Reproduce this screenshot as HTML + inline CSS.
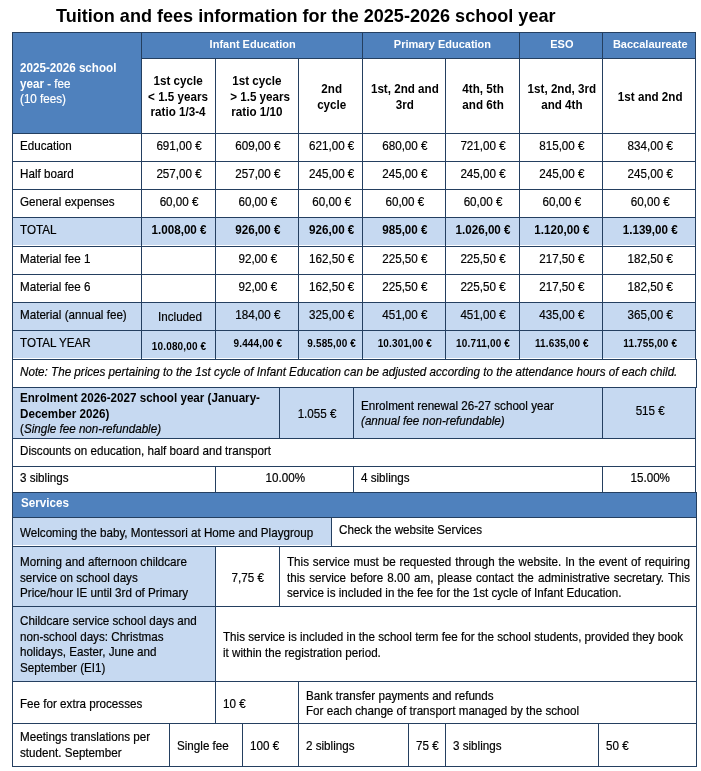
<!DOCTYPE html>
<html><head><meta charset="utf-8"><title>Tuition and fees information for the 2025-2026 school year</title>
<style>
html,body{margin:0;padding:0;background:#fff;}
body{width:701px;height:771px;position:relative;overflow:hidden;font-family:"Liberation Sans", Arial, sans-serif;}
.r{position:absolute;}
.t{position:absolute;white-space:nowrap;-webkit-text-stroke:0.2px currentColor;}
.t b,.t[style*="font-weight:bold"]{-webkit-text-stroke:0;}
.t[style*="justify"]{white-space:normal;}
</style></head><body>
<div class="r" style="left:12px;top:32px;width:684px;height:27px;background:#4f81bd"></div>
<div class="r" style="left:12px;top:58px;width:130px;height:76px;background:#4f81bd"></div>
<div class="r" style="left:12px;top:217px;width:684px;height:28px;background:#c6d9f1"></div>
<div class="r" style="left:12px;top:302px;width:684px;height:56px;background:#c6d9f1"></div>
<div class="r" style="left:12px;top:387px;width:684px;height:52px;background:#c6d9f1"></div>
<div class="r" style="left:12px;top:492px;width:685px;height:26px;background:#4f81bd"></div>
<div class="r" style="left:12px;top:517px;width:320px;height:28px;background:#c6d9f1"></div>
<div class="r" style="left:12px;top:546px;width:204px;height:136px;background:#c6d9f1"></div>
<div class="r" style="left:12px;top:32px;width:684px;height:1px;background:#243f60"></div>
<div class="r" style="left:12px;top:133px;width:684px;height:1px;background:#243f60"></div>
<div class="r" style="left:12px;top:161px;width:684px;height:1px;background:#243f60"></div>
<div class="r" style="left:12px;top:189px;width:684px;height:1px;background:#243f60"></div>
<div class="r" style="left:12px;top:217px;width:684px;height:1px;background:#243f60"></div>
<div class="r" style="left:12px;top:246px;width:684px;height:1px;background:#243f60"></div>
<div class="r" style="left:12px;top:274px;width:684px;height:1px;background:#243f60"></div>
<div class="r" style="left:12px;top:302px;width:684px;height:1px;background:#243f60"></div>
<div class="r" style="left:12px;top:330px;width:684px;height:1px;background:#243f60"></div>
<div class="r" style="left:141px;top:58px;width:555px;height:1px;background:#243f60"></div>
<div class="r" style="left:12px;top:359px;width:685px;height:1px;background:#243f60"></div>
<div class="r" style="left:12px;top:387px;width:685px;height:1px;background:#243f60"></div>
<div class="r" style="left:12px;top:438px;width:684px;height:1px;background:#243f60"></div>
<div class="r" style="left:12px;top:466px;width:684px;height:1px;background:#243f60"></div>
<div class="r" style="left:12px;top:492px;width:685px;height:1px;background:#243f60"></div>
<div class="r" style="left:12px;top:517px;width:685px;height:1px;background:#243f60"></div>
<div class="r" style="left:12px;top:546px;width:685px;height:1px;background:#243f60"></div>
<div class="r" style="left:12px;top:606px;width:685px;height:1px;background:#243f60"></div>
<div class="r" style="left:12px;top:681px;width:685px;height:1px;background:#243f60"></div>
<div class="r" style="left:12px;top:723px;width:685px;height:1px;background:#243f60"></div>
<div class="r" style="left:12px;top:766px;width:685px;height:1px;background:#243f60"></div>
<div class="r" style="left:12px;top:32px;width:1px;height:735px;background:#243f60"></div>
<div class="r" style="left:695px;top:32px;width:1px;height:328px;background:#243f60"></div>
<div class="r" style="left:696px;top:359px;width:1px;height:29px;background:#243f60"></div>
<div class="r" style="left:695px;top:387px;width:1px;height:106px;background:#243f60"></div>
<div class="r" style="left:696px;top:492px;width:1px;height:275px;background:#243f60"></div>
<div class="r" style="left:141px;top:32px;width:1px;height:328px;background:#243f60"></div>
<div class="r" style="left:215px;top:58px;width:1px;height:302px;background:#243f60"></div>
<div class="r" style="left:298px;top:58px;width:1px;height:302px;background:#243f60"></div>
<div class="r" style="left:362px;top:32px;width:1px;height:328px;background:#243f60"></div>
<div class="r" style="left:445px;top:58px;width:1px;height:302px;background:#243f60"></div>
<div class="r" style="left:519px;top:32px;width:1px;height:328px;background:#243f60"></div>
<div class="r" style="left:602px;top:32px;width:1px;height:328px;background:#243f60"></div>
<div class="r" style="left:279px;top:387px;width:1px;height:52px;background:#243f60"></div>
<div class="r" style="left:353px;top:387px;width:1px;height:52px;background:#243f60"></div>
<div class="r" style="left:602px;top:387px;width:1px;height:52px;background:#243f60"></div>
<div class="r" style="left:215px;top:466px;width:1px;height:27px;background:#243f60"></div>
<div class="r" style="left:353px;top:466px;width:1px;height:27px;background:#243f60"></div>
<div class="r" style="left:602px;top:466px;width:1px;height:27px;background:#243f60"></div>
<div class="r" style="left:331px;top:517px;width:1px;height:30px;background:#243f60"></div>
<div class="r" style="left:215px;top:546px;width:1px;height:61px;background:#243f60"></div>
<div class="r" style="left:279px;top:546px;width:1px;height:61px;background:#243f60"></div>
<div class="r" style="left:215px;top:606px;width:1px;height:76px;background:#243f60"></div>
<div class="r" style="left:215px;top:681px;width:1px;height:43px;background:#243f60"></div>
<div class="r" style="left:298px;top:681px;width:1px;height:43px;background:#243f60"></div>
<div class="r" style="left:169px;top:723px;width:1px;height:44px;background:#243f60"></div>
<div class="r" style="left:242px;top:723px;width:1px;height:44px;background:#243f60"></div>
<div class="r" style="left:298px;top:723px;width:1px;height:44px;background:#243f60"></div>
<div class="r" style="left:408px;top:723px;width:1px;height:44px;background:#243f60"></div>
<div class="r" style="left:445px;top:723px;width:1px;height:44px;background:#243f60"></div>
<div class="r" style="left:598px;top:723px;width:1px;height:44px;background:#243f60"></div>
<div class="t" style="top:4px;font-size:18.07px;line-height:24.39px;font-weight:bold;font-style:normal;color:#000;left:56px;">Tuition and fees information for the 2025-2026 school year</div>
<div class="t" style="top:37px;font-size:11.77px;line-height:14.85px;font-weight:bold;font-style:normal;color:#fff;left:135.30px;width:235.40px;text-align:center;transform:scaleX(0.93458);">Infant Education</div>
<div class="t" style="top:37px;font-size:11.77px;line-height:14.85px;font-weight:bold;font-style:normal;color:#fff;left:358.54px;width:166.92px;text-align:center;transform:scaleX(0.93458);">Primary Education</div>
<div class="t" style="top:37px;font-size:11.77px;line-height:14.85px;font-weight:bold;font-style:normal;color:#fff;left:518.13px;width:87.74px;text-align:center;transform:scaleX(0.93458);">ESO</div>
<div class="t" style="top:37px;font-size:11.77px;line-height:14.85px;font-weight:bold;font-style:normal;color:#fff;left:600.78px;width:98.44px;text-align:center;transform:scaleX(0.93458);">Baccalaureate</div>
<div class="t" style="top:61px;font-size:12.466px;line-height:15.6px;font-weight:normal;font-style:normal;color:#fff;left:20px;transform:scaleX(0.93458);transform-origin:0 0;"><b>2025-2026 school</b><br><b>year</b> - fee<br>(10 fees)</div>
<div class="t" style="top:74px;font-size:12.466px;line-height:15.6px;font-weight:bold;font-style:normal;color:#000;left:139.44px;width:78.11px;text-align:center;transform:scaleX(0.93458);">1st cycle<br>&lt; 1.5 years<br>ratio 1/3-4</div>
<div class="t" style="top:74px;font-size:12.466px;line-height:15.6px;font-weight:bold;font-style:normal;color:#000;left:213.13px;width:87.74px;text-align:center;transform:scaleX(0.93458);">1st cycle<br>&nbsp;&nbsp;&gt; 1.5 years<br>ratio 1/10</div>
<div class="t" style="top:82px;font-size:12.466px;line-height:15.6px;font-weight:bold;font-style:normal;color:#000;left:297.80px;width:67.41px;text-align:center;transform:scaleX(0.93458);">2nd<br>cycle</div>
<div class="t" style="top:82px;font-size:12.466px;line-height:15.6px;font-weight:bold;font-style:normal;color:#000;left:361.13px;width:87.74px;text-align:center;transform:scaleX(0.93458);">1st, 2nd and<br>3rd</div>
<div class="t" style="top:82px;font-size:12.466px;line-height:15.6px;font-weight:bold;font-style:normal;color:#000;left:444.44px;width:78.11px;text-align:center;transform:scaleX(0.93458);">4th, 5th<br>and 6th</div>
<div class="t" style="top:82px;font-size:12.466px;line-height:15.6px;font-weight:bold;font-style:normal;color:#000;left:518.13px;width:87.74px;text-align:center;transform:scaleX(0.93458);">1st, 2nd, 3rd<br>and 4th</div>
<div class="t" style="top:90px;font-size:12.466px;line-height:15.6px;font-weight:bold;font-style:normal;color:#000;left:600.78px;width:98.44px;text-align:center;transform:scaleX(0.93458);">1st and 2nd</div>
<div class="t" style="top:139px;font-size:12.466px;line-height:15.73px;font-weight:normal;font-style:normal;color:#000;left:20px;transform:scaleX(0.93458);transform-origin:0 0;">Education</div>
<div class="t" style="top:139px;font-size:12.466px;line-height:15.73px;font-weight:normal;font-style:normal;color:#000;left:140.44px;width:78.11px;text-align:center;transform:scaleX(0.93458);">691,00 €</div>
<div class="t" style="top:139px;font-size:12.466px;line-height:15.73px;font-weight:normal;font-style:normal;color:#000;left:214.13px;width:87.74px;text-align:center;transform:scaleX(0.93458);">609,00 €</div>
<div class="t" style="top:139px;font-size:12.466px;line-height:15.73px;font-weight:normal;font-style:normal;color:#000;left:297.80px;width:67.41px;text-align:center;transform:scaleX(0.93458);">621,00 €</div>
<div class="t" style="top:139px;font-size:12.466px;line-height:15.73px;font-weight:normal;font-style:normal;color:#000;left:361.13px;width:87.74px;text-align:center;transform:scaleX(0.93458);">680,00 €</div>
<div class="t" style="top:139px;font-size:12.466px;line-height:15.73px;font-weight:normal;font-style:normal;color:#000;left:444.44px;width:78.11px;text-align:center;transform:scaleX(0.93458);">721,00 €</div>
<div class="t" style="top:139px;font-size:12.466px;line-height:15.73px;font-weight:normal;font-style:normal;color:#000;left:518.13px;width:87.74px;text-align:center;transform:scaleX(0.93458);">815,00 €</div>
<div class="t" style="top:139px;font-size:12.466px;line-height:15.73px;font-weight:normal;font-style:normal;color:#000;left:600.78px;width:98.44px;text-align:center;transform:scaleX(0.93458);">834,00 €</div>
<div class="t" style="top:167px;font-size:12.466px;line-height:15.73px;font-weight:normal;font-style:normal;color:#000;left:20px;transform:scaleX(0.93458);transform-origin:0 0;">Half board</div>
<div class="t" style="top:167px;font-size:12.466px;line-height:15.73px;font-weight:normal;font-style:normal;color:#000;left:140.44px;width:78.11px;text-align:center;transform:scaleX(0.93458);">257,00 €</div>
<div class="t" style="top:167px;font-size:12.466px;line-height:15.73px;font-weight:normal;font-style:normal;color:#000;left:214.13px;width:87.74px;text-align:center;transform:scaleX(0.93458);">257,00 €</div>
<div class="t" style="top:167px;font-size:12.466px;line-height:15.73px;font-weight:normal;font-style:normal;color:#000;left:297.80px;width:67.41px;text-align:center;transform:scaleX(0.93458);">245,00 €</div>
<div class="t" style="top:167px;font-size:12.466px;line-height:15.73px;font-weight:normal;font-style:normal;color:#000;left:361.13px;width:87.74px;text-align:center;transform:scaleX(0.93458);">245,00 €</div>
<div class="t" style="top:167px;font-size:12.466px;line-height:15.73px;font-weight:normal;font-style:normal;color:#000;left:444.44px;width:78.11px;text-align:center;transform:scaleX(0.93458);">245,00 €</div>
<div class="t" style="top:167px;font-size:12.466px;line-height:15.73px;font-weight:normal;font-style:normal;color:#000;left:518.13px;width:87.74px;text-align:center;transform:scaleX(0.93458);">245,00 €</div>
<div class="t" style="top:167px;font-size:12.466px;line-height:15.73px;font-weight:normal;font-style:normal;color:#000;left:600.78px;width:98.44px;text-align:center;transform:scaleX(0.93458);">245,00 €</div>
<div class="t" style="top:195px;font-size:12.466px;line-height:15.73px;font-weight:normal;font-style:normal;color:#000;left:20px;transform:scaleX(0.93458);transform-origin:0 0;">General expenses</div>
<div class="t" style="top:195px;font-size:12.466px;line-height:15.73px;font-weight:normal;font-style:normal;color:#000;left:140.44px;width:78.11px;text-align:center;transform:scaleX(0.93458);">60,00 €</div>
<div class="t" style="top:195px;font-size:12.466px;line-height:15.73px;font-weight:normal;font-style:normal;color:#000;left:214.13px;width:87.74px;text-align:center;transform:scaleX(0.93458);">60,00 €</div>
<div class="t" style="top:195px;font-size:12.466px;line-height:15.73px;font-weight:normal;font-style:normal;color:#000;left:297.80px;width:67.41px;text-align:center;transform:scaleX(0.93458);">60,00 €</div>
<div class="t" style="top:195px;font-size:12.466px;line-height:15.73px;font-weight:normal;font-style:normal;color:#000;left:361.13px;width:87.74px;text-align:center;transform:scaleX(0.93458);">60,00 €</div>
<div class="t" style="top:195px;font-size:12.466px;line-height:15.73px;font-weight:normal;font-style:normal;color:#000;left:444.44px;width:78.11px;text-align:center;transform:scaleX(0.93458);">60,00 €</div>
<div class="t" style="top:195px;font-size:12.466px;line-height:15.73px;font-weight:normal;font-style:normal;color:#000;left:518.13px;width:87.74px;text-align:center;transform:scaleX(0.93458);">60,00 €</div>
<div class="t" style="top:195px;font-size:12.466px;line-height:15.73px;font-weight:normal;font-style:normal;color:#000;left:600.78px;width:98.44px;text-align:center;transform:scaleX(0.93458);">60,00 €</div>
<div class="t" style="top:223px;font-size:12.466px;line-height:15.73px;font-weight:normal;font-style:normal;color:#000;left:20px;transform:scaleX(0.93458);transform-origin:0 0;">TOTAL</div>
<div class="t" style="top:223px;font-size:12.466px;line-height:15.73px;font-weight:bold;font-style:normal;color:#000;left:140.44px;width:78.11px;text-align:center;transform:scaleX(0.93458);">1.008,00 €</div>
<div class="t" style="top:223px;font-size:12.466px;line-height:15.73px;font-weight:bold;font-style:normal;color:#000;left:214.13px;width:87.74px;text-align:center;transform:scaleX(0.93458);">926,00 €</div>
<div class="t" style="top:223px;font-size:12.466px;line-height:15.73px;font-weight:bold;font-style:normal;color:#000;left:297.80px;width:67.41px;text-align:center;transform:scaleX(0.93458);">926,00 €</div>
<div class="t" style="top:223px;font-size:12.466px;line-height:15.73px;font-weight:bold;font-style:normal;color:#000;left:361.13px;width:87.74px;text-align:center;transform:scaleX(0.93458);">985,00 €</div>
<div class="t" style="top:223px;font-size:12.466px;line-height:15.73px;font-weight:bold;font-style:normal;color:#000;left:444.44px;width:78.11px;text-align:center;transform:scaleX(0.93458);">1.026,00 €</div>
<div class="t" style="top:223px;font-size:12.466px;line-height:15.73px;font-weight:bold;font-style:normal;color:#000;left:518.13px;width:87.74px;text-align:center;transform:scaleX(0.93458);">1.120,00 €</div>
<div class="t" style="top:223px;font-size:12.466px;line-height:15.73px;font-weight:bold;font-style:normal;color:#000;left:600.78px;width:98.44px;text-align:center;transform:scaleX(0.93458);">1.139,00 €</div>
<div class="t" style="top:252px;font-size:12.466px;line-height:15.73px;font-weight:normal;font-style:normal;color:#000;left:20px;transform:scaleX(0.93458);transform-origin:0 0;">Material fee 1</div>
<div class="t" style="top:252px;font-size:12.466px;line-height:15.73px;font-weight:normal;font-style:normal;color:#000;left:214.13px;width:87.74px;text-align:center;transform:scaleX(0.93458);">92,00 €</div>
<div class="t" style="top:252px;font-size:12.466px;line-height:15.73px;font-weight:normal;font-style:normal;color:#000;left:297.80px;width:67.41px;text-align:center;transform:scaleX(0.93458);">162,50 €</div>
<div class="t" style="top:252px;font-size:12.466px;line-height:15.73px;font-weight:normal;font-style:normal;color:#000;left:361.13px;width:87.74px;text-align:center;transform:scaleX(0.93458);">225,50 €</div>
<div class="t" style="top:252px;font-size:12.466px;line-height:15.73px;font-weight:normal;font-style:normal;color:#000;left:444.44px;width:78.11px;text-align:center;transform:scaleX(0.93458);">225,50 €</div>
<div class="t" style="top:252px;font-size:12.466px;line-height:15.73px;font-weight:normal;font-style:normal;color:#000;left:518.13px;width:87.74px;text-align:center;transform:scaleX(0.93458);">217,50 €</div>
<div class="t" style="top:252px;font-size:12.466px;line-height:15.73px;font-weight:normal;font-style:normal;color:#000;left:600.78px;width:98.44px;text-align:center;transform:scaleX(0.93458);">182,50 €</div>
<div class="t" style="top:280px;font-size:12.466px;line-height:15.73px;font-weight:normal;font-style:normal;color:#000;left:20px;transform:scaleX(0.93458);transform-origin:0 0;">Material fee 6</div>
<div class="t" style="top:280px;font-size:12.466px;line-height:15.73px;font-weight:normal;font-style:normal;color:#000;left:214.13px;width:87.74px;text-align:center;transform:scaleX(0.93458);">92,00 €</div>
<div class="t" style="top:280px;font-size:12.466px;line-height:15.73px;font-weight:normal;font-style:normal;color:#000;left:297.80px;width:67.41px;text-align:center;transform:scaleX(0.93458);">162,50 €</div>
<div class="t" style="top:280px;font-size:12.466px;line-height:15.73px;font-weight:normal;font-style:normal;color:#000;left:361.13px;width:87.74px;text-align:center;transform:scaleX(0.93458);">225,50 €</div>
<div class="t" style="top:280px;font-size:12.466px;line-height:15.73px;font-weight:normal;font-style:normal;color:#000;left:444.44px;width:78.11px;text-align:center;transform:scaleX(0.93458);">225,50 €</div>
<div class="t" style="top:280px;font-size:12.466px;line-height:15.73px;font-weight:normal;font-style:normal;color:#000;left:518.13px;width:87.74px;text-align:center;transform:scaleX(0.93458);">217,50 €</div>
<div class="t" style="top:280px;font-size:12.466px;line-height:15.73px;font-weight:normal;font-style:normal;color:#000;left:600.78px;width:98.44px;text-align:center;transform:scaleX(0.93458);">182,50 €</div>
<div class="t" style="top:308px;font-size:12.466px;line-height:15.73px;font-weight:normal;font-style:normal;color:#000;left:20px;transform:scaleX(0.93458);transform-origin:0 0;">Material (annual fee)</div>
<div class="t" style="top:308px;font-size:12.466px;line-height:15.73px;font-weight:normal;font-style:normal;color:#000;left:214.13px;width:87.74px;text-align:center;transform:scaleX(0.93458);">184,00 €</div>
<div class="t" style="top:308px;font-size:12.466px;line-height:15.73px;font-weight:normal;font-style:normal;color:#000;left:297.80px;width:67.41px;text-align:center;transform:scaleX(0.93458);">325,00 €</div>
<div class="t" style="top:308px;font-size:12.466px;line-height:15.73px;font-weight:normal;font-style:normal;color:#000;left:361.13px;width:87.74px;text-align:center;transform:scaleX(0.93458);">451,00 €</div>
<div class="t" style="top:308px;font-size:12.466px;line-height:15.73px;font-weight:normal;font-style:normal;color:#000;left:444.44px;width:78.11px;text-align:center;transform:scaleX(0.93458);">451,00 €</div>
<div class="t" style="top:308px;font-size:12.466px;line-height:15.73px;font-weight:normal;font-style:normal;color:#000;left:518.13px;width:87.74px;text-align:center;transform:scaleX(0.93458);">435,00 €</div>
<div class="t" style="top:308px;font-size:12.466px;line-height:15.73px;font-weight:normal;font-style:normal;color:#000;left:600.78px;width:98.44px;text-align:center;transform:scaleX(0.93458);">365,00 €</div>
<div class="t" style="top:310px;font-size:12.466px;line-height:15.73px;font-weight:normal;font-style:normal;color:#000;left:141.44px;width:78.11px;text-align:center;transform:scaleX(0.93458);">Included</div>
<div class="t" style="top:336px;font-size:12.466px;line-height:15.73px;font-weight:normal;font-style:normal;color:#000;left:20px;transform:scaleX(0.93458);transform-origin:0 0;">TOTAL YEAR</div>
<div class="t" style="top:340px;font-size:10.7px;line-height:13.5px;font-weight:bold;font-style:normal;color:#000;left:140.44px;width:78.11px;text-align:center;transform:scaleX(0.93458);letter-spacing:0.161px;">10.080,00 €</div>
<div class="t" style="top:337px;font-size:10.7px;line-height:13.5px;font-weight:bold;font-style:normal;color:#000;left:214.13px;width:87.74px;text-align:center;transform:scaleX(0.93458);letter-spacing:0.161px;">9.444,00 €</div>
<div class="t" style="top:337px;font-size:10.7px;line-height:13.5px;font-weight:bold;font-style:normal;color:#000;left:297.80px;width:67.41px;text-align:center;transform:scaleX(0.93458);letter-spacing:0.161px;">9.585,00 €</div>
<div class="t" style="top:337px;font-size:10.7px;line-height:13.5px;font-weight:bold;font-style:normal;color:#000;left:361.13px;width:87.74px;text-align:center;transform:scaleX(0.93458);letter-spacing:0.161px;">10.301,00 €</div>
<div class="t" style="top:337px;font-size:10.7px;line-height:13.5px;font-weight:bold;font-style:normal;color:#000;left:444.44px;width:78.11px;text-align:center;transform:scaleX(0.93458);letter-spacing:0.161px;">10.711,00 €</div>
<div class="t" style="top:337px;font-size:10.7px;line-height:13.5px;font-weight:bold;font-style:normal;color:#000;left:518.13px;width:87.74px;text-align:center;transform:scaleX(0.93458);letter-spacing:0.161px;">11.635,00 €</div>
<div class="t" style="top:337px;font-size:10.7px;line-height:13.5px;font-weight:bold;font-style:normal;color:#000;left:600.78px;width:98.44px;text-align:center;transform:scaleX(0.93458);letter-spacing:0.161px;">11.755,00 €</div>
<div class="t" style="top:365px;font-size:12.466px;line-height:15.73px;font-weight:normal;font-style:italic;color:#000;left:20px;transform:scaleX(0.93458);transform-origin:0 0;">Note: The prices pertaining to the 1st cycle of Infant Education can be adjusted according to the attendance hours of each child.</div>
<div class="t" style="top:391px;font-size:12.466px;line-height:15.6px;font-weight:normal;font-style:normal;color:#000;left:20px;transform:scaleX(0.93458);transform-origin:0 0;"><b>Enrolment 2026-2027 school year (January-</b><br><b>December 2026)</b><br>(<i>Single fee non-refundable)</i></div>
<div class="t" style="top:407px;font-size:12.466px;line-height:15.73px;font-weight:normal;font-style:normal;color:#000;left:278.44px;width:78.11px;text-align:center;transform:scaleX(0.93458);">1.055 €</div>
<div class="t" style="top:399px;font-size:12.466px;line-height:15px;font-weight:normal;font-style:normal;color:#000;left:361px;transform:scaleX(0.93458);transform-origin:0 0;">Enrolment renewal 26-27 school year<br><i>(annual fee non-refundable)</i></div>
<div class="t" style="top:404px;font-size:12.466px;line-height:15.73px;font-weight:normal;font-style:normal;color:#000;left:600.78px;width:98.44px;text-align:center;transform:scaleX(0.93458);">515 €</div>
<div class="t" style="top:444px;font-size:12.466px;line-height:15.73px;font-weight:normal;font-style:normal;color:#000;left:20px;transform:scaleX(0.93458);transform-origin:0 0;">Discounts on education, half board and transport</div>
<div class="t" style="top:471px;font-size:12.466px;line-height:15.73px;font-weight:normal;font-style:normal;color:#000;left:20px;transform:scaleX(0.93458);transform-origin:0 0;">3 siblings</div>
<div class="t" style="top:471px;font-size:12.466px;line-height:15.73px;font-weight:normal;font-style:normal;color:#000;left:212.20px;width:146.59px;text-align:center;transform:scaleX(0.93458);">10.00%</div>
<div class="t" style="top:471px;font-size:12.466px;line-height:15.73px;font-weight:normal;font-style:normal;color:#000;left:361px;transform:scaleX(0.93458);transform-origin:0 0;">4 siblings</div>
<div class="t" style="top:471px;font-size:12.466px;line-height:15.73px;font-weight:normal;font-style:normal;color:#000;left:600.78px;width:98.44px;text-align:center;transform:scaleX(0.93458);">15.00%</div>
<div class="t" style="top:496px;font-size:12.466px;line-height:15.73px;font-weight:bold;font-style:normal;color:#fff;left:21px;transform:scaleX(0.93458);transform-origin:0 0;">Services</div>
<div class="t" style="top:526px;font-size:12.466px;line-height:15.73px;font-weight:normal;font-style:normal;color:#000;left:20px;transform:scaleX(0.93458);transform-origin:0 0;">Welcoming the baby, Montessori at Home and Playgroup</div>
<div class="t" style="top:523px;font-size:12.466px;line-height:15.73px;font-weight:normal;font-style:normal;color:#000;left:339px;transform:scaleX(0.93458);transform-origin:0 0;">Check the website Services</div>
<div class="t" style="top:555px;font-size:12.466px;line-height:15.6px;font-weight:normal;font-style:normal;color:#000;left:20px;transform:scaleX(0.93458);transform-origin:0 0;">Morning and afternoon childcare<br>service on school days<br>Price/hour IE until 3rd of Primary</div>
<div class="t" style="top:571px;font-size:12.466px;line-height:15.73px;font-weight:normal;font-style:normal;color:#000;left:213.79px;width:67.41px;text-align:center;transform:scaleX(0.93458);">7,75 €</div>
<div class="t" style="top:555px;font-size:12.466px;line-height:15.6px;font-weight:normal;font-style:normal;color:#000;left:287px;width:431.21px;text-align:justify;transform:scaleX(0.93458);transform-origin:0 0;">This service must be requested through the website. In the event of requiring this service before 8.00 am, please contact the administrative secretary. This service is included in the fee for the 1st cycle of Infant Education.</div>
<div class="t" style="top:614px;font-size:12.466px;line-height:15.6px;font-weight:normal;font-style:normal;color:#000;left:20px;transform:scaleX(0.93458);transform-origin:0 0;">Childcare service school days and<br>non-school days: Christmas<br>holidays, Easter, June and<br>September (EI1)</div>
<div class="t" style="top:630px;font-size:12.466px;line-height:15.6px;font-weight:normal;font-style:normal;color:#000;left:223px;transform:scaleX(0.93458);transform-origin:0 0;">This service is included in the school term fee for the school students, provided they book<br>it within the registration period.</div>
<div class="t" style="top:697px;font-size:12.466px;line-height:15.73px;font-weight:normal;font-style:normal;color:#000;left:20px;transform:scaleX(0.93458);transform-origin:0 0;">Fee for extra processes</div>
<div class="t" style="top:697px;font-size:12.466px;line-height:15.73px;font-weight:normal;font-style:normal;color:#000;left:223px;transform:scaleX(0.93458);transform-origin:0 0;">10 €</div>
<div class="t" style="top:689px;font-size:12.466px;line-height:15px;font-weight:normal;font-style:normal;color:#000;left:306px;transform:scaleX(0.93458);transform-origin:0 0;">Bank transfer payments and refunds<br>For each change of transport managed by the school</div>
<div class="t" style="top:730px;font-size:12.466px;line-height:15.6px;font-weight:normal;font-style:normal;color:#000;left:20px;transform:scaleX(0.93458);transform-origin:0 0;">Meetings translations per<br>student. September</div>
<div class="t" style="top:739px;font-size:12.466px;line-height:15.73px;font-weight:normal;font-style:normal;color:#000;left:177px;transform:scaleX(0.93458);transform-origin:0 0;">Single fee</div>
<div class="t" style="top:739px;font-size:12.466px;line-height:15.73px;font-weight:normal;font-style:normal;color:#000;left:250px;transform:scaleX(0.93458);transform-origin:0 0;">100 €</div>
<div class="t" style="top:739px;font-size:12.466px;line-height:15.73px;font-weight:normal;font-style:normal;color:#000;left:306px;transform:scaleX(0.93458);transform-origin:0 0;">2 siblings</div>
<div class="t" style="top:739px;font-size:12.466px;line-height:15.73px;font-weight:normal;font-style:normal;color:#000;left:416px;transform:scaleX(0.93458);transform-origin:0 0;">75 €</div>
<div class="t" style="top:739px;font-size:12.466px;line-height:15.73px;font-weight:normal;font-style:normal;color:#000;left:453px;transform:scaleX(0.93458);transform-origin:0 0;">3 siblings</div>
<div class="t" style="top:739px;font-size:12.466px;line-height:15.73px;font-weight:normal;font-style:normal;color:#000;left:606px;transform:scaleX(0.93458);transform-origin:0 0;">50 €</div>
</body></html>
